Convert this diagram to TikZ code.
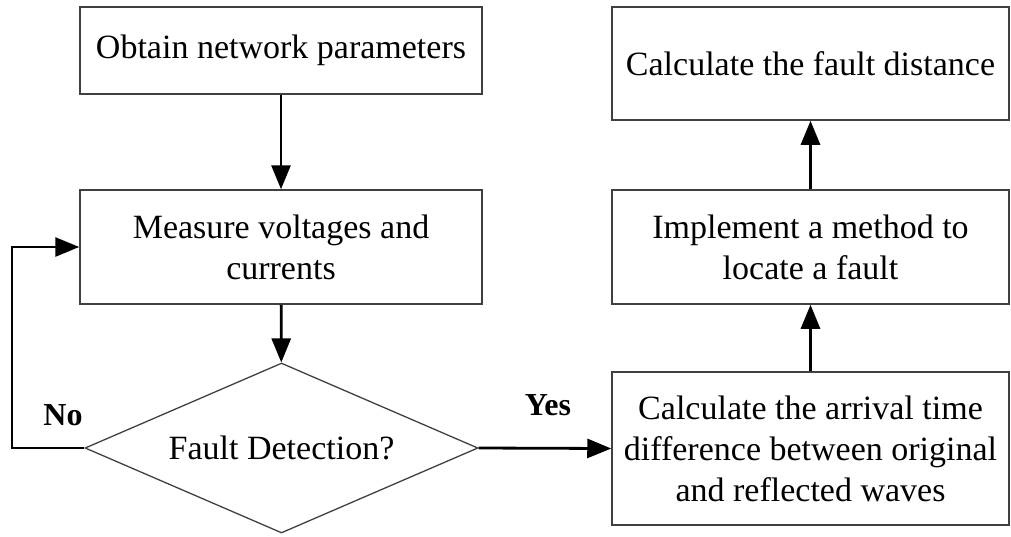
\documentclass[tikz,border=0pt]{standalone}
\usepackage{fontspec}
\setmainfont{Liberation Serif}
\usetikzlibrary{shapes.geometric,arrows.meta}
\begin{document}
\begin{tikzpicture}[x=1pt,y=-1pt,
  box/.style={draw=black!75,line width=1.5pt,rectangle,inner sep=0pt,align=center,
    font=\fontsize{34}{41}\selectfont},
  decision/.style={draw=black!75,line width=1.3pt,diamond,inner sep=0pt,shape aspect=2.31,
    minimum width=393pt,minimum height=170pt,font=\fontsize{34}{41}\selectfont},
  flow/.style={line width=2.8pt,-{Triangle[length=24pt,width=19pt]}},
  lbl/.style={font=\fontsize{32}{38}\selectfont\bfseries}]
\useasboundingbox (0,0) rectangle (1011,536);
\node[box,minimum width=402pt,minimum height=87pt] (obtain) at (281,50.5) {Obtain network parameters};
\node[box,minimum width=402pt,minimum height=114pt] (measure) at (281,247) {Measure voltages and\\currents};
\node[decision] (detect) at (281.5,448) {Fault Detection?};
\node[box,minimum width=397pt,minimum height=153pt] (arrival) at (810.5,448.5) {Calculate the arrival time\\difference between original\\and reflected waves};
\node[box,minimum width=397pt,minimum height=114pt] (method) at (810.5,247) {Implement a method to\\locate a fault};
\node[box,minimum width=397pt,minimum height=113pt] (distance) at (810.5,63.5) {Calculate the fault distance};
\coordinate (c1) at (12,448);
\coordinate (c2) at (12,247);
\draw[flow] (obtain) -- (measure);
\draw[flow] (measure) -- (detect);
\draw[flow] (detect.west) -- (c1) -- (c2) -- (measure.west);
\draw[flow] (detect.east) -- (arrival.west);
\draw[flow] (arrival) -- (method);
\draw[flow] (method) -- (distance);
\node[lbl] (no) at (63,415) {No};
\node[lbl] (yes) at (548,405) {Yes};
\end{tikzpicture}
\end{document}
